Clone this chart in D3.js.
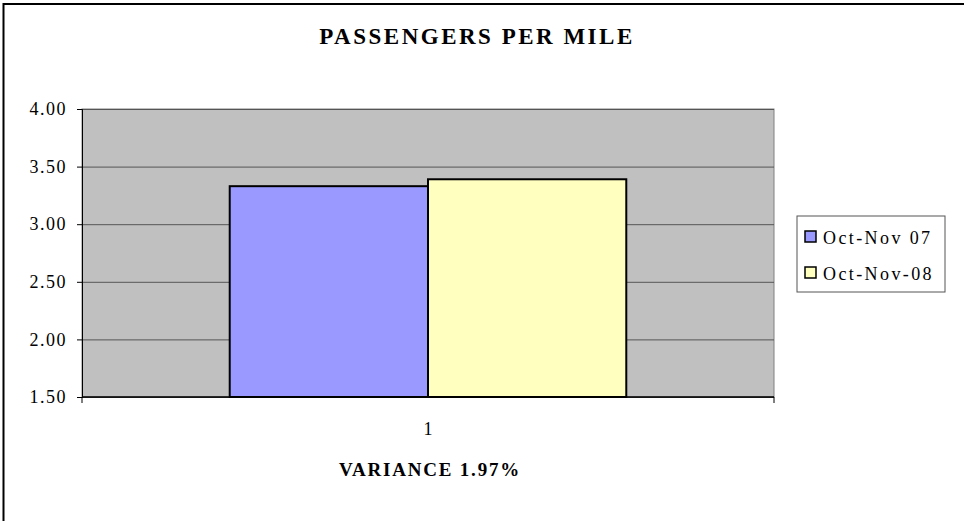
<!DOCTYPE html>
<html>
<head>
<meta charset="utf-8">
<script src="https://cdn.jsdelivr.net/npm/d3@7"></script>
<style>
  body { margin: 0; background: #fff; overflow: hidden; }
</style>
</head>
<body>
<svg width="964" height="521"></svg>
<script>
//data
const categories = ["1"];
const seriesNames = ["Oct-Nov 07", "Oct-Nov-08"];
const seriesValues = [3.33, 3.39];
const seriesColors = ["#9999ff", "#ffffc0"];
const yTicks = [1.5, 2.0, 2.5, 3.0, 3.5, 4.0];

const serif = "'Liberation Serif', 'Times New Roman', Times, serif";

//layout
const margin = {top: 109, left: 82};
const width = 692;
const height = 288;

let svg = d3.select("svg");

//outer border
svg.append("rect")
    .attr("x", 3.5).attr("y", 4)
    .attr("width", 1000).attr("height", 600)
    .style("fill", "none").style("stroke", "#000").style("stroke-width", 2);

let g = svg.append("g")
    .attr("transform", "translate(" + margin.left + "," + margin.top + ")");

//scales
let xScale = d3.scaleBand().domain(categories).range([0, width]);
let xInner = d3.scaleBand().domain(seriesNames)
    .range([0, xScale.bandwidth()])
    .paddingOuter(0.745);
let yScale = d3.scaleLinear().domain([1.5, 4.0]).range([height, 0]);

//plot background
g.append("rect")
    .attr("width", width).attr("height", height)
    .style("fill", "#c0c0c0")
    .style("stroke", "#808080");

//grid
g.append("g")
    .call(d3.axisRight(yScale).tickValues(yTicks).tickSize(width).tickFormat(""))
    .call(s => s.select(".domain").remove())
    .call(s => s.selectAll("line").style("stroke", "#555").style("stroke-width", 1));

//bars
g.selectAll(".bar")
    .data(seriesValues)
    .enter()
    .append("rect")
    .attr("class", "bar")
    .attr("x", (d, i) => xScale(categories[0]) + xInner(seriesNames[i]))
    .attr("y", d => yScale(d))
    .attr("width", xInner.bandwidth())
    .attr("height", d => height - yScale(d))
    .style("fill", (d, i) => seriesColors[i])
    .style("stroke", "#000")
    .style("stroke-width", 2);

//y axis
g.append("g")
    .call(d3.axisLeft(yScale).tickValues(yTicks).tickSize(5).tickPadding(10).tickFormat(d3.format(".2f")))
    .attr("font-family", serif)
    .attr("font-size", 18)
    .call(s => s.select(".domain").style("stroke", "#000"))
    .call(s => s.selectAll("text").attr("fill", "#000").attr("letter-spacing", "1.5px"));

//x axis
let xAxis = g.append("g")
    .attr("transform", "translate(0," + height + ")");
xAxis.append("line")
    .attr("x1", 0).attr("x2", width)
    .style("stroke", "#000").style("stroke-width", 1.5);
xAxis.selectAll(".edge")
    .data([0, width])
    .enter()
    .append("line")
    .attr("x1", d => d).attr("x2", d => d)
    .attr("y1", 0).attr("y2", 6)
    .style("stroke", "#000");
xAxis.selectAll(".cat")
    .data(categories)
    .enter()
    .append("text")
    .attr("x", d => xScale(d) + xScale.bandwidth() / 2)
    .attr("y", 38)
    .attr("text-anchor", "middle")
    .attr("font-family", serif)
    .attr("font-size", 18)
    .text(d => d);

//title
svg.append("text")
    .attr("x", 477).attr("y", 44)
    .attr("text-anchor", "middle")
    .attr("font-family", serif)
    .attr("font-size", 23)
    .attr("font-weight", "bold")
    .attr("letter-spacing", "2.5px")
    .text("PASSENGERS PER MILE");

//x axis label
svg.append("text")
    .attr("x", 430).attr("y", 476)
    .attr("text-anchor", "middle")
    .attr("font-family", serif)
    .attr("font-size", 19)
    .attr("font-weight", "bold")
    .attr("letter-spacing", "1.8px")
    .text("VARIANCE 1.97%");

//legend
let legend = svg.append("g").attr("transform", "translate(797,216)");
legend.append("rect")
    .attr("width", 148).attr("height", 76)
    .style("fill", "#fff").style("stroke", "#555");
let items = legend.selectAll(".item")
    .data(seriesNames)
    .enter()
    .append("g")
    .attr("transform", (d, i) => "translate(8," + (21 + i * 36) + ")");
items.append("rect")
    .attr("x", 0).attr("y", -6)
    .attr("width", 11).attr("height", 11)
    .style("fill", (d, i) => seriesColors[i])
    .style("stroke", "#000").style("stroke-width", 1.5);
items.append("text")
    .attr("x", 18).attr("y", 7)
    .attr("font-family", serif)
    .attr("font-size", 18)
    .attr("letter-spacing", "2.4px")
    .text(d => d);
</script>
</body>
</html>
